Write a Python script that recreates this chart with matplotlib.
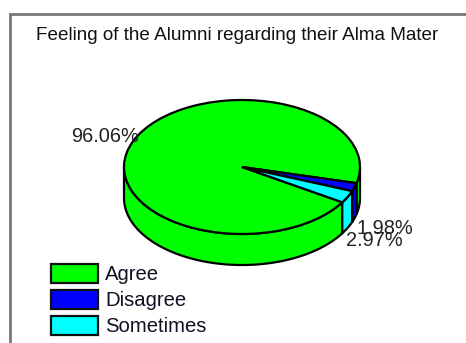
import numpy as np
import matplotlib
matplotlib.use("Agg")
import matplotlib.pyplot as plt
from matplotlib.patches import Polygon, Rectangle

title = "Feeling of the Alumni regarding their Alma Mater"
categories = ["Agree", "Disagree", "Sometimes"]
values = [96, 2, 3]
pct_labels = ["96.06%", "1.98%", "2.97%"]
colors = ["#00ff00", "#0000ff", "#00ffff"]

W, H = 466, 343
plt.rcParams["font.family"] = ["Liberation Sans", "DejaVu Sans"]
fig = plt.figure(figsize=(W / 100, H / 100), dpi=100, facecolor="white")

# pixel overlay
px = fig.add_axes([0, 0, 1, 1], zorder=3)
px.set_xlim(0, W); px.set_ylim(H, 0); px.axis("off"); px.patch.set_alpha(0)

# pie axes: ellipse geometry
cx, cy, rx, ry, depth = 242, 167, 118, 67, 31
ax = fig.add_axes([0, 0, 1, 1], zorder=1)
startangle = 328.2
ax.pie(values, colors=colors, startangle=startangle, counterclock=False, radius=1,
       wedgeprops=dict(edgecolor="black", linewidth=1.6, zorder=3))
ax.set_aspect("auto")
ax.set_xlim(-cx / rx, (W - cx) / rx)
ax.set_ylim(-(H - cy) / ry, cy / ry)
ax.axis("off")

# extruded side faces derived from the values
d = depth / ry
sweep = np.array(values) / sum(values) * 360
a0 = startangle
for v, c in zip(sweep, colors):
    a1 = a0 - v
    t = np.radians(np.linspace(a0, a1, 600))
    visible = np.sin(t) <= 0
    # split the sweep into continuous runs on the front of the pie
    runs = np.split(t, np.flatnonzero(np.diff(visible.astype(int))) + 1)
    for run in runs:
        if np.sin(run).mean() > 0:
            continue
        x, y = np.cos(run), np.sin(run)
        pts = np.r_[np.c_[x, y], np.c_[x[::-1], y[::-1] - d]]
        ax.add_patch(Polygon(pts, closed=True, facecolor=c, edgecolor="black",
                             linewidth=1.6, zorder=2))
    a0 = a1

# frame
px.plot([9.5, 9.5, W], [H, 13.5, 13.5], color="#777777", lw=2, solid_joinstyle="miter")

px.text(36, 35, title, fontsize=13.55, va="center", ha="left", color="#111111")

# percentage labels
for s, x, y in zip(pct_labels, [71, 357, 346], [136, 228, 240]):
    px.text(x, y, s, fontsize=14.4, va="center", ha="left", color="#222222")

# legend
for s, c, y in zip(categories, colors, [273, 299, 325]):
    px.add_patch(Rectangle((51, y - 9.5), 47, 19, facecolor=c, edgecolor="#111111", lw=1.6))
    px.text(105, y + 1.5, s, fontsize=14.6, va="center", ha="left", color="#111122")

fig.savefig("out.png", dpi=100)
